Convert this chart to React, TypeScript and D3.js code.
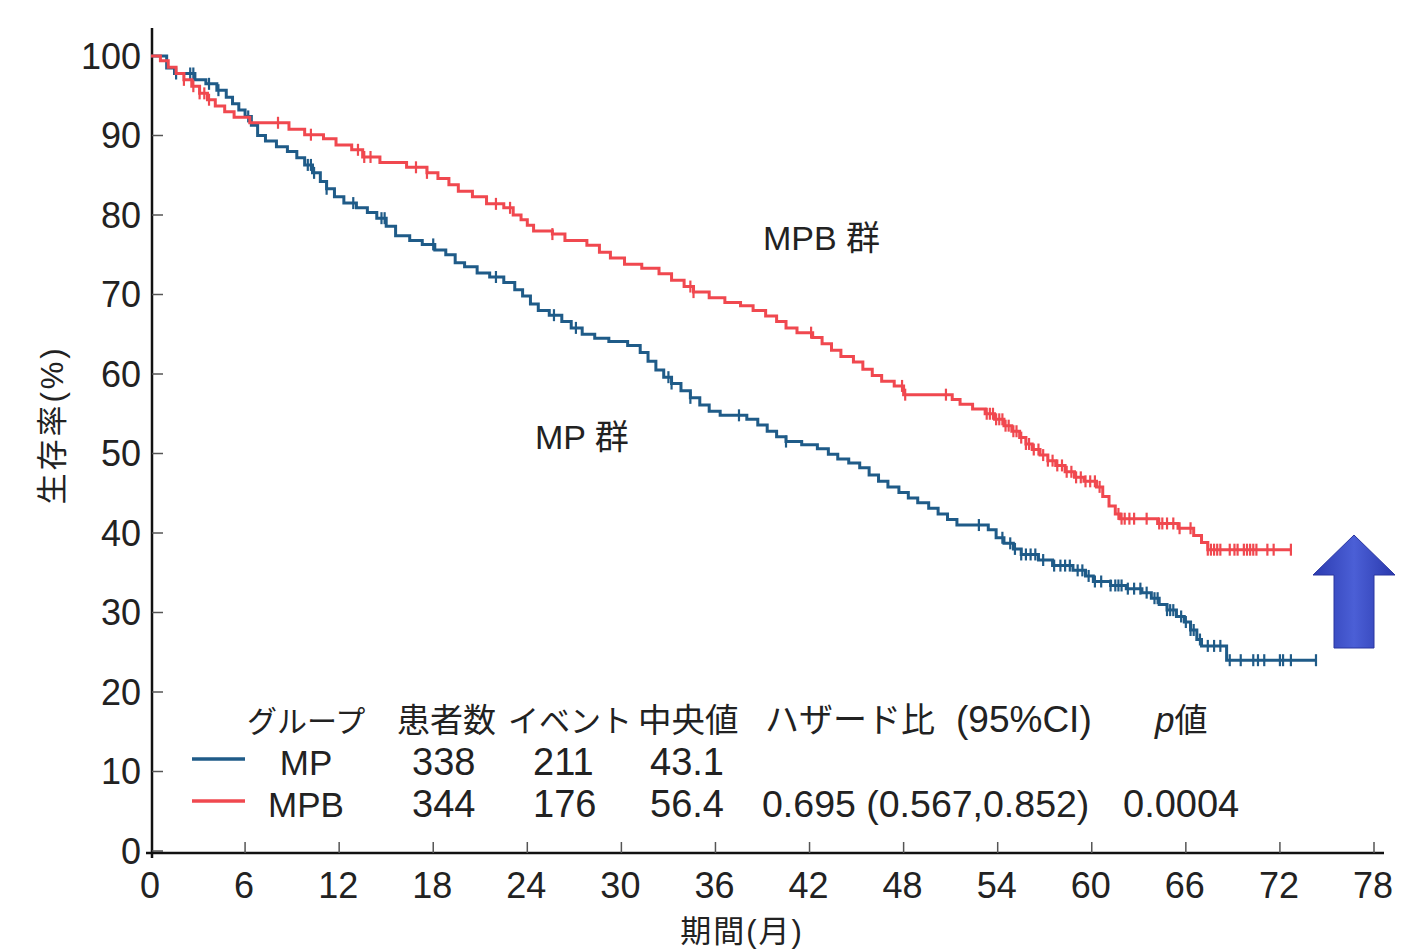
import React from "react";
import * as d3 from "d3";

// ---- Data ----
const xTicks = [0, 6, 12, 18, 24, 30, 36, 42, 48, 54, 60, 66, 72, 78];
const yTicks = [0, 10, 20, 30, 40, 50, 60, 70, 80, 90, 100];

// Kaplan–Meier step points: [month, survival %]
const mpSteps: [number, number][] = [
  [0, 100], [1.0, 98.5], [1.5, 97.8], [2.8, 97], [3.5, 96.5], [4.2, 95.7], [4.8, 94.8], [5.2, 94], [5.6, 93.2],
  [6.0, 92.4], [6.4, 91.3], [6.8, 90], [7.3, 89.3], [8.0, 88.6], [8.7, 88], [9.3, 87.2], [9.8, 86.3], [10.3, 85.3],
  [10.8, 84.2], [11.2, 83.3], [11.7, 82.3], [12.3, 81.5], [13.1, 80.9], [13.8, 80.3], [14.4, 79.6], [15.0, 78.6],
  [15.6, 77.4], [16.5, 76.8], [17.3, 76.3], [18.1, 75.6], [18.8, 75], [19.4, 74], [20.0, 73.5], [20.8, 72.7],
  [21.6, 72.2], [22.5, 71.5], [23.2, 70.6], [23.7, 69.8], [24.2, 68.8], [24.7, 68], [25.4, 67.4], [26.2, 66.6],
  [26.8, 65.8], [27.5, 65], [28.3, 64.5], [29.2, 64.1], [30.4, 63.6], [31.2, 62.7], [31.7, 61.6], [32.2, 60.5],
  [32.7, 59.6], [33.2, 58.8], [33.8, 57.9], [34.4, 57], [35.0, 56.1], [35.6, 55.3], [36.3, 54.8], [38.0, 54.3],
  [38.7, 53.6], [39.3, 52.8], [39.9, 52.1], [40.5, 51.5], [41.5, 51.1], [42.5, 50.6], [43.2, 49.9], [43.8, 49.3],
  [44.5, 48.8], [45.2, 48.2], [45.8, 47.3], [46.4, 46.5], [47.0, 45.8], [47.7, 45.1], [48.3, 44.4], [48.9, 43.8],
  [49.6, 43.1], [50.2, 42.4], [50.8, 41.7], [51.4, 41], [53.4, 40.4], [53.9, 39.4], [54.4, 38.7], [55.0, 38],
  [55.5, 37.3], [56.6, 36.6], [57.5, 35.9], [58.8, 35.3], [59.6, 34.6], [60.1, 33.9], [61.2, 33.4], [62.2, 33],
  [63.2, 32.5], [63.8, 31.8], [64.3, 31], [64.8, 30.3], [65.4, 29.5], [65.9, 28.8], [66.3, 27.8], [66.7, 26.6],
  [67.0, 25.8], [68.6, 24.0],
];
const mpEnd = 74.3;

const mpbSteps: [number, number][] = [
  [0, 100], [0.6, 99.4], [1.1, 98.6], [1.6, 97.8], [2.1, 97], [2.6, 96.2], [3.1, 95.3], [3.6, 94.5], [4.1, 93.7],
  [4.7, 93], [5.3, 92.3], [6.3, 91.6], [8.8, 90.8], [9.8, 90.1], [11.0, 89.6], [11.8, 88.8], [12.8, 88.2],
  [13.5, 87.3], [14.6, 86.6], [16.3, 86], [17.6, 85.3], [18.3, 84.6], [19.0, 83.8], [19.6, 83], [20.5, 82.3],
  [21.4, 81.4], [22.5, 80.9], [23.1, 80], [23.6, 79.4], [24.0, 78.7], [24.4, 78], [25.6, 77.6], [26.4, 76.8],
  [27.8, 76.2], [28.6, 75.3], [29.3, 74.6], [30.2, 73.8], [31.3, 73.3], [32.4, 72.6], [33.2, 71.8], [34.0, 71],
  [34.6, 70.3], [35.6, 69.6], [36.6, 69], [37.6, 68.6], [38.4, 68], [39.2, 67.3], [39.9, 66.6], [40.5, 65.8],
  [41.2, 65.2], [42.2, 64.6], [42.8, 63.8], [43.4, 63], [44.0, 62.2], [44.8, 61.5], [45.4, 60.6], [46.0, 59.8],
  [46.6, 59.1], [47.4, 58.5], [48.0, 57.4], [51.1, 56.8], [51.6, 56.2], [52.4, 55.6], [53.2, 55], [53.8, 54.3],
  [54.4, 53.5], [54.9, 52.8], [55.4, 52], [55.8, 51.2], [56.2, 50.5], [56.7, 49.8], [57.2, 49.1], [57.7, 48.5],
  [58.3, 47.7], [58.9, 47], [59.5, 46.5], [60.3, 45.8], [60.7, 44.6], [61.1, 43.4], [61.5, 42.4], [61.8, 41.8],
  [64.2, 41.2], [65.5, 40.6], [66.5, 39.7], [67.0, 38.8], [67.4, 37.9],
];
const mpbEnd = 72.7;

// Censor marks (months)
const mpCensor = [
  1.6, 2.5, 2.7, 3.7, 4.3, 6.2, 10.0, 10.2, 10.4, 11.2, 12.9, 14.7, 14.9, 18.0, 22.0, 25.7, 27.1, 33.0, 33.2,
  34.4, 37.5, 40.5, 52.8, 54.3, 54.8, 55.1, 55.5, 55.8, 56.1, 56.4, 56.9, 57.6, 58.0, 58.3, 58.6, 59.1, 59.4,
  59.8, 60.2, 60.6, 61.2, 61.5, 61.7, 61.9, 62.3, 62.7, 63.1, 63.5, 64.0, 64.2, 64.8, 65.0, 65.2, 65.7, 66.0,
  66.3, 66.5, 66.9, 67.4, 67.8, 68.2, 68.8, 69.5, 70.3, 70.6, 71.0, 72.0, 72.2, 72.7, 74.3,
];
const mpbCensor = [
  2.1, 2.7, 3.1, 3.4, 3.7, 8.1, 10.2, 13.2, 13.6, 14.0, 16.9, 17.6, 22.0, 22.9, 25.6, 34.4, 34.6, 42.1, 47.9,
  48.1, 50.7, 53.3, 53.5, 53.7, 53.9, 54.1, 54.3, 54.5, 54.7, 55.0, 55.2, 55.5, 55.8, 56.0, 56.3, 56.6, 56.9,
  57.2, 57.5, 57.8, 58.1, 58.4, 58.7, 59.0, 59.3, 59.6, 59.9, 60.2, 60.5, 61.7, 61.9, 62.1, 62.4, 62.7, 63.5,
  64.3, 64.5, 64.8, 65.2, 65.6, 66.3, 67.4, 67.6, 67.8, 68.0, 68.2, 68.8, 69.1, 69.3, 69.7, 69.9, 70.1, 70.3,
  70.5, 71.2, 71.6, 72.7,
];

const groupNames = ["MP", "MPB"];
const patients = ["338", "344"];
const events = ["211", "176"];
const medians = ["43.1", "56.4"];
const hazard = ["", "0.695 (0.567,0.852)"];
const pValues = ["", "0.0004"];
const headers = ["グループ", "患者数", "イベント", "中央値", "ハザード比"];

const BLUE = "#1f5b88";
const RED = "#f0484f";
const FONT = "'Liberation Sans', Arial, 'Noto Sans CJK JP', sans-serif";

export default function App() {
  const W = 1408, H = 952;
  const x = d3.scaleLinear().domain([0, 78]).range([151, 1374]);
  const y = d3.scaleLinear().domain([0, 100]).range([851, 56]);

  const line = d3
    .line<[number, number]>()
    .x((d) => x(d[0]))
    .y((d) => y(d[1]))
    .curve(d3.curveStepAfter);

  const full = (steps: [number, number][], end: number): [number, number][] => [
    ...steps,
    [end, steps[steps.length - 1][1]],
  ];
  const survAt = (steps: [number, number][], t: number) => {
    let s = steps[0][1];
    for (const [ti, si] of steps) if (ti <= t) s = si;
    return s;
  };

  const curves = [
    { steps: mpSteps, end: mpEnd, censor: mpCensor, color: BLUE },
    { steps: mpbSteps, end: mpbEnd, censor: mpbCensor, color: RED },
  ];

  const rowY = [775, 817];
  const colors = [BLUE, RED];

  return (
    <svg width={W} height={H} style={{ position: "absolute", left: 0, top: 0, background: "#fff" }} fontFamily={FONT}>
      <defs>
        <linearGradient id="arrowGrad" x1="0" x2="1" y1="0" y2="0">
          <stop offset="0" stopColor="#2b3bb0" />
          <stop offset="0.5" stopColor="#4b5fd6" />
          <stop offset="1" stopColor="#2a39ad" />
        </linearGradient>
      </defs>

      {/* y axis */}
      <line x1={152} x2={152} y1={28} y2={858} stroke="#111" strokeWidth={2.5} />
      {yTicks.map((t) => (
        <g key={"y" + t}>
          <line x1={152} x2={163} y1={y(t)} y2={y(t)} stroke="#555" strokeWidth={1.5} />
          <text x={141} y={y(t)} dy="0.36em" textAnchor="end" fontSize={36} fill="#222">
            {t}
          </text>
        </g>
      ))}
      {/* x axis */}
      <line x1={146} x2={1384} y1={853} y2={853} stroke="#111" strokeWidth={2.5} />
      {xTicks.map((t) => (
        <g key={"x" + t}>
          {t > 0 && <line x1={x(t)} x2={x(t)} y1={853} y2={842} stroke="#555" strokeWidth={1.5} />}
          <text x={x(t) - 1} y={898} textAnchor="middle" fontSize={36} fill="#222">
            {t}
          </text>
        </g>
      ))}
      <text x={742} y={942} textAnchor="middle" fontSize={31} letterSpacing={2} fill="#222">
        期間(月)
      </text>
      <text transform="translate(63,425) rotate(-90)" textAnchor="middle" fontSize={31} letterSpacing={3} fill="#222">
        生存率(%)
      </text>

      {/* curves */}
      {curves.map((c, i) => (
        <g key={"c" + i}>
          <path d={line(full(c.steps, c.end)) || ""} fill="none" stroke={c.color} strokeWidth={3} />
          {c.censor.map((t, j) => (
            <line
              key={j}
              x1={x(t)}
              x2={x(t)}
              y1={y(survAt(c.steps, t)) - 6}
              y2={y(survAt(c.steps, t)) + 6}
              stroke={c.color}
              strokeWidth={2.2}
            />
          ))}
        </g>
      ))}

      {/* group labels */}
      <text x={763} y={250} fontSize={34} fill="#222">
        MPB 群
      </text>
      <text x={535} y={449} fontSize={34} fill="#222">
        MP 群
      </text>

      {/* table */}
      <g fill="#222">
        <text x={247} y={732} fontSize={30}>{headers[0]}</text>
        <text x={397} y={732} fontSize={33}>{headers[1]}</text>
        <text x={508} y={732} fontSize={31}>{headers[2]}</text>
        <text x={638} y={732} fontSize={33.5}>{headers[3]}</text>
        <text x={765} y={732} fontSize={34}>{headers[4]}</text>
        <text x={956} y={732} fontSize={37}>(95%CI)</text>
        <text x={1155} y={732} fontSize={35}>
          <tspan fontStyle="italic">p</tspan>
          <tspan fontSize={33}>値</tspan>
        </text>
        {groupNames.map((g, i) => (
          <g key={"row" + i}>
            <line x1={192} x2={245} y1={rowY[i] - 16} y2={rowY[i] - 16} stroke={colors[i]} strokeWidth={3.5} />
            <text x={306} y={rowY[i]} textAnchor="middle" fontSize={35}>{g}</text>
            <text x={412} y={rowY[i]} fontSize={38}>{patients[i]}</text>
            <text x={533} y={rowY[i]} fontSize={38}>{events[i]}</text>
            <text x={650} y={rowY[i]} fontSize={38}>{medians[i]}</text>
            <text x={762} y={rowY[i]} fontSize={37.5}>{hazard[i]}</text>
            <text x={1123} y={rowY[i]} fontSize={38}>{pValues[i]}</text>
          </g>
        ))}
      </g>

      {/* arrow */}
      <polygon
        points="1354,535 1395,575 1374,575 1374,648 1334,648 1334,575 1313,575"
        fill="url(#arrowGrad)"
        stroke="#2a36a0"
        strokeWidth={1}
      />
    </svg>
  );
}
